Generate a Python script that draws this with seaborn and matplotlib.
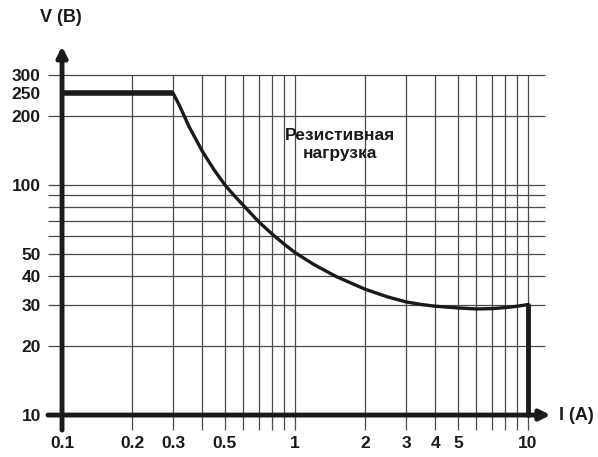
import numpy as np
import pandas as pd
import seaborn as sns
import matplotlib.pyplot as plt
from matplotlib import font_manager

sns.set_theme(style="white")

# шрифт: узкий жирный, если есть
names = {f.name for f in font_manager.fontManager.ttflist}
fam = "Liberation Sans Narrow" if "Liberation Sans Narrow" in names else "Liberation Sans"
plt.rcParams['font.family'] = [fam, 'DejaVu Sans']

# данные кривой нагрузки
current = [0.1, 0.3, 0.32, 0.35, 0.4, 0.45, 0.5, 0.55, 0.6, 0.7, 0.8, 0.9, 1.0, 1.2, 1.5,
           2.0, 2.5, 3.0, 3.5, 4.0, 5.0, 6.0, 7.0, 8.0, 9.0, 10.0]
voltage = [250, 250, 220, 180, 140, 116, 100, 89.5, 81.5, 69, 61, 55.2, 50.8, 45.2, 40,
           35.2, 32.6, 31, 30.2, 29.7, 29.2, 28.9, 29.0, 29.3, 29.7, 30.2]

x_ticks = [0.1, 0.2, 0.3, 0.5, 1, 2, 3, 4, 5, 10]
x_labels = ["0.1", "0.2", "0.3", "0.5", "1", "2", "3", "4", "5", "10"]
y_ticks = [10, 20, 30, 40, 50, 100, 200, 250, 300]
y_labels = ["10", "20", "30", "40", "50", "100", "200", "250", "300"]

x_grid = [0.2, 0.3, 0.4, 0.5, 0.6, 0.7, 0.8, 0.9, 1, 2, 3, 4, 5, 6, 7, 8, 9, 10]
y_grid = [20, 30, 40, 50, 60, 70, 80, 90, 100, 200, 300]

df = pd.DataFrame({"I": current, "V": voltage})

fig = plt.figure(figsize=(5.98, 4.57), dpi=100)
ax = fig.add_axes([45 / 598, 25 / 457, 507 / 598, 392 / 457])
ax.set_xscale("log")
ax.set_yscale("log")
ax.set_xlim(0.0845, 12.68)
ax.set_ylim(8.44, 426)

# сетка
ax.hlines(y_grid, 0.087, 11.8, color="#4a4a4a", lw=0.9, zorder=1)
ax.vlines(x_grid, 8.6, 300, color="#4a4a4a", lw=0.9, zorder=1)

# кривая
sns.lineplot(data=df.iloc[1:], x="I", y="V", color="#1a1a1a", lw=2.4, ax=ax, zorder=3,
             sort=False)
ax.plot(current[:2], voltage[:2], color="#1a1a1a", lw=4, solid_capstyle="butt", zorder=4)
ax.plot([10, 10], [30.2, 10], color="#1a1a1a", lw=3.5, zorder=4)

# оси со стрелками
arrow = dict(arrowstyle="-|>,head_length=0.5,head_width=0.25", color="#1a1a1a", lw=3.5,
             shrinkA=0, shrinkB=0)
ax.annotate("", xy=(0.1, 400), xytext=(0.1, 8.6), arrowprops=arrow, zorder=5)
ax.annotate("", xy=(12.5, 10), xytext=(0.087, 10), arrowprops=arrow, zorder=5)

for s in ax.spines.values():
    s.set_visible(False)

ax.set_xticks(x_ticks)
ax.set_xticklabels(x_labels)
ax.set_yticks(y_ticks)
ax.set_yticklabels(y_labels)
ax.minorticks_off()
ax.tick_params(length=0, labelsize=12.5, colors="#1a1a1a")
ax.tick_params(axis="x", pad=3)
ax.tick_params(axis="y", pad=3)
for t in ax.get_xticklabels() + ax.get_yticklabels():
    t.set_fontweight("bold")
ax.set_xlabel("")
ax.set_ylabel("")
ax.grid(False)

ax.text(1.56, 150, "Резистивная\nнагрузка", ha="center", va="center",
        fontsize=12.5, fontweight="bold", color="#1a1a1a", linespacing=1.3)

fig.text(40 / 598, 1 - 18 / 457, "V (B)", ha="left", va="center",
         fontsize=13, fontweight="bold", color="#1a1a1a")
fig.text(559 / 598, 1 - 416 / 457, "I (A)", ha="left", va="center",
         fontsize=13, fontweight="bold", color="#1a1a1a")

fig.savefig("out.png", dpi=100)
